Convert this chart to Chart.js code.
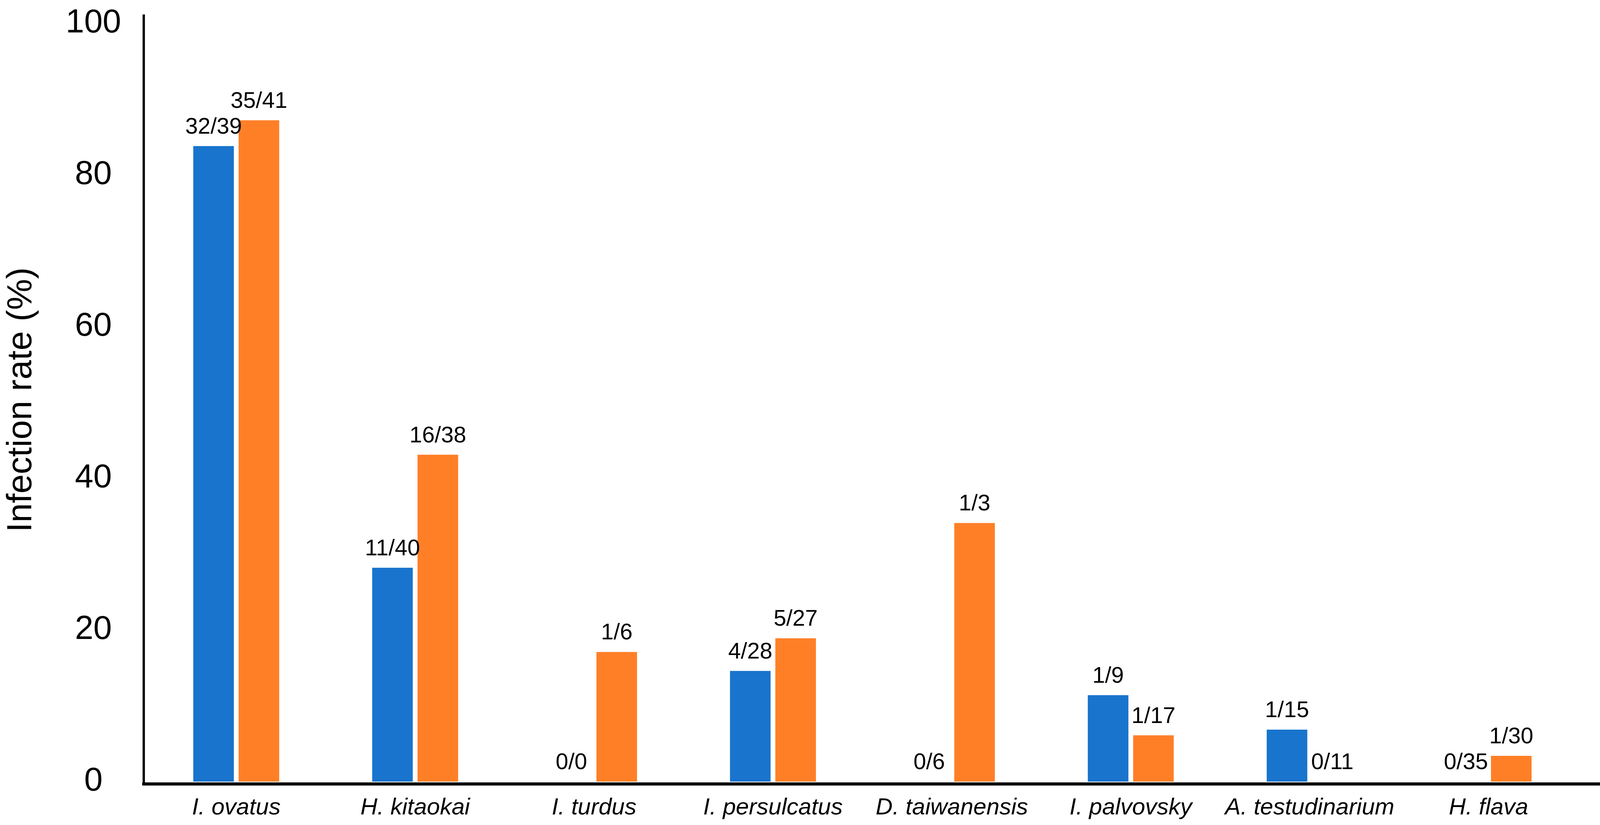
<!DOCTYPE html>
<html>
<head>
<meta charset="utf-8">
<script src="https://cdn.jsdelivr.net/npm/chart.js@4.4.1/dist/chart.umd.min.js"></script>
<style>
html,body{margin:0;padding:0;background:#fff;overflow:hidden;}
#wrap{width:4288px;height:2111px;position:absolute;left:0;top:0;}
canvas{display:block;}
</style>
</head>
<body>
<div id="wrap"><canvas id="c"></canvas></div>
<script>
const categories = ['I. ovatus','H. kitaokai','I. turdus','I. persulcatus','D. taiwanensis','I. palvovsky','A. testudinarium','H. flava'];
const blueValues = [83.8, 28.2, 0, 14.6, 0, 11.4, 6.85, 0];
const orangeValues = [87.2, 43.1, 17.1, 18.9, 34.1, 6.1, 0, 3.4];
const blueLabels = ['32/39','11/40','0/0','4/28','0/6','1/9','1/15','0/35'];
const orangeLabels = ['35/41','16/38','1/6','5/27','1/3','1/17','0/11','1/30'];
const yTickStep = 20;

const FONT = '"Liberation Sans", Arial, Helvetica, sans-serif';

const labelPlugin = {
  id: 'barLabels',
  afterDatasetsDraw(chart) {
    const ctx = chart.ctx;
    ctx.save();
    ctx.font = '58px ' + FONT;
    ctx.fillStyle = '#000';
    ctx.textAlign = 'center';
    ctx.textBaseline = 'alphabetic';
    [blueLabels, orangeLabels].forEach((labels, di) => {
      const meta = chart.getDatasetMeta(di);
      meta.data.forEach((el, i) => {
        ctx.fillText(labels[i], el.x, el.y - 32);
      });
    });
    ctx.restore();
  }
};

new Chart(document.getElementById('c'), {
  type: 'bar',
  data: {
    datasets: [
      { label: 'A', data: blueValues.map((v, i) => ({x: i, y: v})), backgroundColor: '#1874CD', borderWidth: 0 },
      { label: 'B', data: orangeValues.map((v, i) => ({x: i, y: v})), backgroundColor: '#FF7F27', borderWidth: 0 }
    ]
  },
  options: {
    responsive: true,
    maintainAspectRatio: false,
    animation: false,
    devicePixelRatio: 1,
    categoryPercentage: 0.507,
    barPercentage: 0.895,
    layout: { padding: { top: 40, right: 27, left: 0, bottom: 0 } },
    plugins: { legend: { display: false }, tooltip: { enabled: false } },
    scales: {
      x: {
        type: 'linear',
        offset: false,
        min: -0.517,
        max: 7.983,
        grid: { display: false, drawTicks: false },
        border: { display: true, color: '#000', width: 8 },
        ticks: {
          stepSize: 1,
          includeBounds: false,
          autoSkip: false,
          maxRotation: 0,
          minRotation: 0,
          padding: 25,
          color: '#000',
          font: { family: FONT, size: 60, style: 'italic' },
          callback: (v) => (Number.isInteger(v) && categories[v] !== undefined) ? categories[v] : ''
        },
        afterFit(scale) { scale.height = 105; scale.paddingLeft = 0; scale.paddingRight = 0; }
      },
      y: {
        min: -0.31,
        max: 101,
        grid: { display: false, drawTicks: false },
        border: { display: true, color: '#000', width: 6 },
        ticks: {
          stepSize: yTickStep,
          includeBounds: false,
          crossAlign: 'center',
          padding: 58,
          color: '#000',
          font: { family: FONT, size: 85 }
        },
        title: {
          display: true,
          text: 'Infection rate (%)',
          color: '#000',
          font: { family: FONT, size: 89 },
          padding: { top: 2, bottom: 0 }
        },
        afterFit(scale) { scale.width = 368; scale.paddingTop = 0; scale.paddingBottom = 0; }
      }
    }
  },
  plugins: [labelPlugin]
});
</script>
</body>
</html>
